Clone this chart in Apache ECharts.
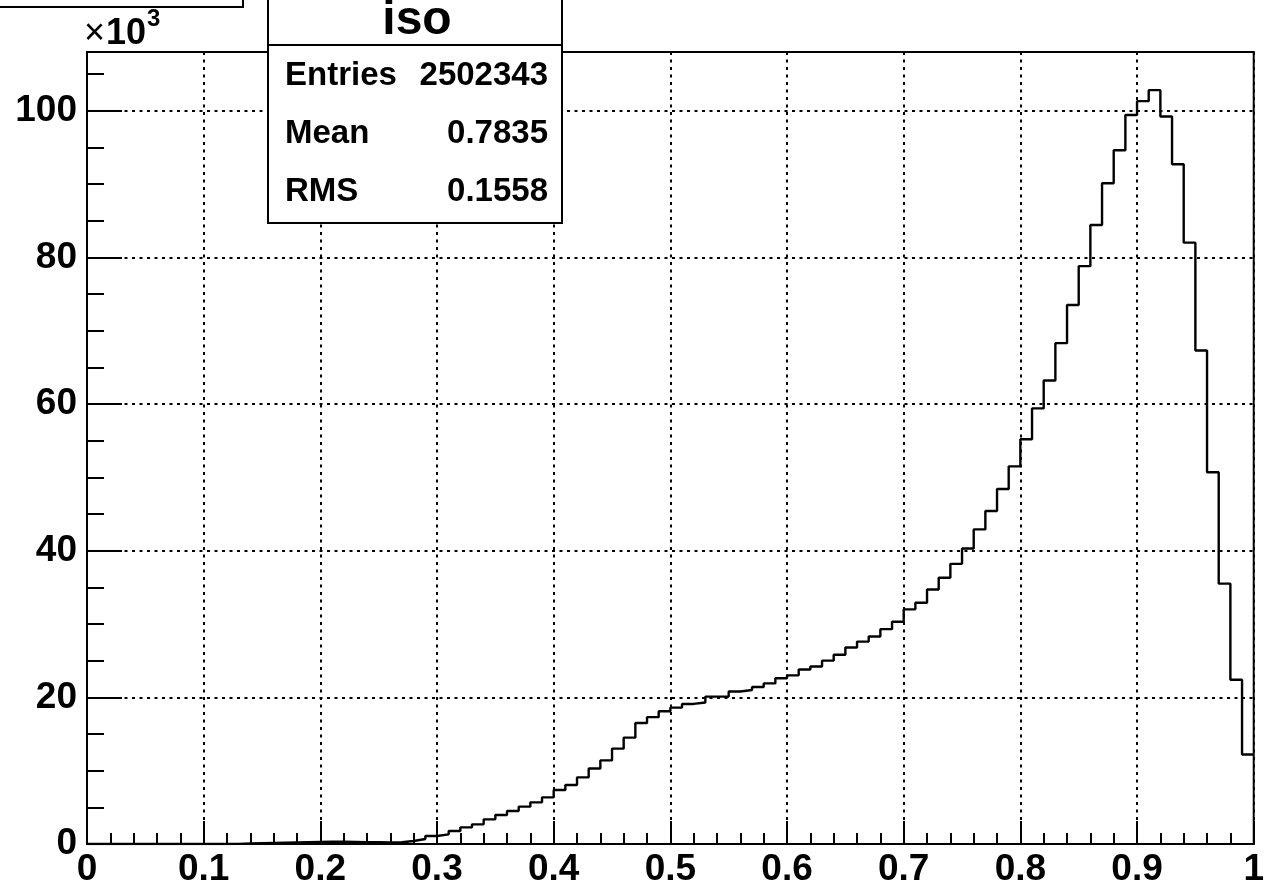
<!DOCTYPE html>
<html>
<head>
<meta charset="utf-8">
<title>iso</title>
<script src="https://cdn.jsdelivr.net/npm/echarts@6/dist/echarts.min.js"></script>
<style>
  html, body { margin: 0; padding: 0; background: #fff; }
  #chart { width: 1267px; height: 888px; }
</style>
</head>
<body>
<div id="chart"></div>
<script>
// Histogram "iso": 100 bins on [0, 1], counts in units of 10^3
const xMin = 0;
const xMax = 1;
const binWidth = 0.01;
const counts = [
  0, 0, 0, 0, 0, 0, 0, 0, 0, 0, 0, 0,
  0.02, 0.06, 0.10, 0.14, 0.18, 0.22, 0.25, 0.28,
  0.30, 0.30, 0.28, 0.26, 0.24, 0.22, 0.23, 0.41, 0.68, 1.09,
  1.32, 1.77, 2.27, 2.68, 3.36, 3.95, 4.50, 5.09, 5.68, 6.36,
  7.36, 8.05, 9.09, 10.3, 11.4, 13.0, 14.5, 16.5, 17.3, 18.1,
  18.6, 19.1, 19.3, 20.1, 20.1, 20.8, 21.0, 21.4, 21.9, 22.6,
  23.0, 23.8, 24.2, 25.0, 25.8, 26.8, 27.6, 28.3, 29.3, 30.3,
  32.0, 32.9, 34.7, 36.3, 38.2, 40.3, 42.9, 45.4, 48.4, 51.5,
  55.2, 59.4, 63.2, 68.3, 73.5, 78.8, 84.4, 90.1, 94.6, 99.4,
  101.3, 102.8, 99.2, 92.7, 82.0, 67.3, 50.7, 35.5, 22.4, 12.2
];
const yMax = 108;
const xTickLabels = ['0', '0.1', '0.2', '0.3', '0.4', '0.5', '0.6', '0.7', '0.8', '0.9', '1'];
const yTickLabels = ['0', '20', '40', '60', '80', '100'];
const statsTitle = 'iso';
const statsNames = ['Entries', 'Mean', 'RMS'];
const statsValues = ['2502343', '0.7835', '0.1558'];

const FONT = '"Liberation Sans", Arial, Helvetica, sans-serif';

// Step outline: each point is a bin's lower edge with its content, plus the closing edge
const stepData = counts.map((c, i) => [+(xMin + i * binWidth).toFixed(4), c]);
stepData.push([xMax, counts[counts.length - 1]]);

const chart = echarts.init(document.getElementById('chart'), null, { renderer: 'canvas' });

const blackLine = { color: '#000', width: 2 };
const dotted = { color: '#000', width: 2, type: [3, 4.5] };

const statsGraphics = [
  // clipped title pave in the top-left corner
  { type: 'rect', z: 100, shape: { x: -5, y: -5, width: 248, height: 12 },
    style: { fill: '#fff', stroke: '#000', lineWidth: 2 } },
  // statistics box
  { type: 'rect', z: 100, shape: { x: 268, y: -5, width: 294, height: 228 },
    style: { fill: '#fff', stroke: '#000', lineWidth: 2 } },
  { type: 'line', z: 101, shape: { x1: 268, y1: 45, x2: 562, y2: 45 },
    style: { stroke: '#000', lineWidth: 2 } },
  { type: 'text', z: 102, x: 417, y: 21,
    style: { text: statsTitle, font: 'bold 48px ' + FONT, fill: '#000', align: 'center', verticalAlign: 'middle' } }
];
const rowY = [76, 134, 192];
statsNames.forEach((name, i) => {
  statsGraphics.push({ type: 'text', z: 102, x: 285, y: rowY[i],
    style: { text: name, font: 'bold 33px ' + FONT, fill: '#000', align: 'left', verticalAlign: 'middle' } });
  statsGraphics.push({ type: 'text', z: 102, x: 548, y: rowY[i],
    style: { text: statsValues[i], font: 'bold 33px ' + FONT, fill: '#000', align: 'right', verticalAlign: 'middle' } });
});
// axis multiplier
statsGraphics.push({ type: 'text', z: 102, x: 84, y: 34,
  style: { text: '×', font: '36px ' + FONT, fill: '#000', align: 'left', verticalAlign: 'middle' } });
statsGraphics.push({ type: 'text', z: 102, x: 106, y: 34,
  style: { text: '10', font: 'bold 36px ' + FONT, fill: '#000', align: 'left', verticalAlign: 'middle' } });
statsGraphics.push({ type: 'text', z: 102, x: 147, y: 19,
  style: { text: '3', font: 'bold 24px ' + FONT, fill: '#000', align: 'left', verticalAlign: 'middle' } });

const option = {
  animation: false,
  backgroundColor: '#fff',
  grid: {
    left: 87, right: 9, top: 52, bottom: 44,
    show: true, borderColor: '#000', borderWidth: 2, backgroundColor: 'transparent'
  },
  xAxis: {
    type: 'value', min: xMin, max: xMax, interval: 0.1,
    axisLine: { show: true, onZero: false, lineStyle: blackLine },
    axisTick: { show: true, inside: true, length: 23, lineStyle: blackLine },
    minorTick: { show: true, splitNumber: 5, length: 11, lineStyle: blackLine },
    axisLabel: {
      show: true, margin: 7, color: '#000',
      fontFamily: FONT, fontWeight: 'bold', fontSize: 37,
      formatter: (v, i) => xTickLabels[i]
    },
    splitLine: { show: true, lineStyle: dotted }
  },
  yAxis: [
    {
      // short ticks every 5
      type: 'value', min: 0, max: yMax, interval: 5, position: 'left',
      axisLine: { show: true, onZero: false, lineStyle: blackLine },
      axisTick: { show: true, inside: true, length: 17, lineStyle: blackLine },
      axisLabel: { show: false },
      splitLine: { show: false }
    },
    {
      // long ticks, labels and grid every 20
      type: 'value', min: 0, max: yMax, interval: 20, position: 'left', offset: 0,
      axisLine: { show: false },
      axisTick: { show: true, inside: true, length: 35, lineStyle: blackLine },
      axisLabel: {
        show: true, margin: 10, color: '#000', showMaxLabel: false,
        fontFamily: FONT, fontWeight: 'bold', fontSize: 37,
        formatter: (v, i) => yTickLabels[i] !== undefined ? yTickLabels[i] : ''
      },
      splitLine: { show: true, lineStyle: dotted }
    }
  ],
  series: [{
    type: 'line',
    xAxisIndex: 0,
    yAxisIndex: 1,
    step: 'end',
    showSymbol: false,
    symbol: 'none',
    lineStyle: { color: '#000', width: 2.4 },
    data: stepData,
    z: 5
  }],
  graphic: statsGraphics
};

chart.setOption(option);
</script>
</body>
</html>
